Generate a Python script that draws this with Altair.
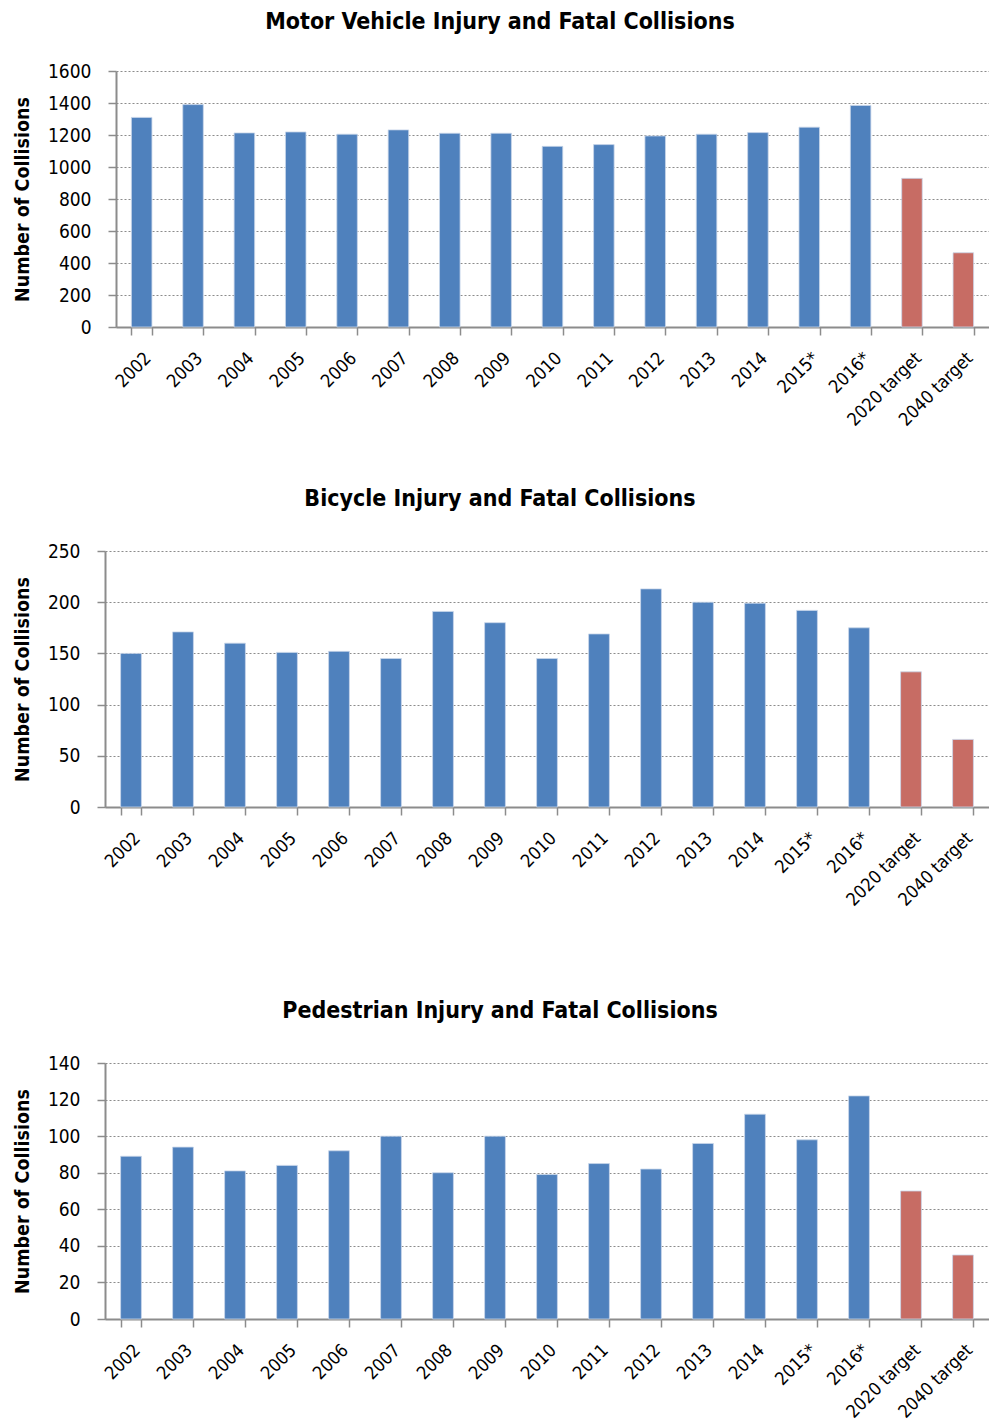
import altair as alt
import pandas as pd

categories = ["2002", "2003", "2004", "2005", "2006", "2007", "2008", "2009", "2010",
              "2011", "2012", "2013", "2014", "2015*", "2016*", "2020 target", "2040 target"]
kinds = ["actual"] * 15 + ["target"] * 2

motor_values = [1310, 1390, 1213, 1219, 1205, 1232, 1211, 1211, 1129, 1140, 1194, 1205,
                1215, 1249, 1385, 929, 464]
bicycle_values = [150, 171, 160, 151, 152, 145, 191, 180, 145, 169, 213, 200, 199, 192,
                  175, 132, 66]
pedestrian_values = [89, 94, 81, 84, 92, 100, 80, 100, 79, 85, 82, 96, 112, 98, 122, 70, 35]

titles = ["Motor Vehicle Injury and Fatal Collisions",
          "Bicycle Injury and Fatal Collisions",
          "Pedestrian Injury and Fatal Collisions"]
y_ticks_motor = [0, 200, 400, 600, 800, 1000, 1200, 1400, 1600]
y_ticks_bicycle = [0, 50, 100, 150, 200, 250]
y_ticks_pedestrian = [0, 20, 40, 60, 80, 100, 120, 140]

FONT = "DejaVu Sans Condensed"
BLUE = "#4F81BD"
RED = "#C76C64"
GRAY = "#8C8C8C"
WIDTH = 884


def panel(values, title, ticks, shift, title_offset):
    df = pd.DataFrame({"year": categories, "value": values, "kind": kinds})
    x_scale = alt.Scale(paddingInner=0.6, paddingOuter=0.3)
    if shift:
        x_scale = alt.Scale(paddingInner=0.6, paddingOuter=0.3, range=[shift, WIDTH])
    return alt.Chart(
        df,
        title=alt.Title(title, font=FONT, fontSize=23, fontWeight="bold", color="black",
                        anchor="middle", frame="group", baseline="alphabetic",
                        offset=title_offset, dx=-47),
    ).mark_bar(stroke="#C9D7EA", strokeWidth=0.8).encode(
        x=alt.X("year:N", sort=categories, scale=x_scale,
                axis=alt.Axis(title=None, labelAngle=-45, tickBand="extent",
                              labelFont=FONT, labelFontSize=18, labelColor="black",
                              labelPadding=14, tickSize=8, tickColor=GRAY, tickWidth=1.5,
                              domainColor=GRAY, domainWidth=2, grid=False)),
        y=alt.Y("value:Q",
                scale=alt.Scale(domain=[ticks[0], ticks[-1]], nice=False),
                axis=alt.Axis(values=ticks, format="d", title="Number of Collisions",
                              offset=-shift,
                              titleFont=FONT, titleFontSize=19.5, titleFontWeight="bold",
                              titleColor="black", titlePadding=15,
                              labelFont=FONT, labelFontSize=19, labelColor="black",
                              labelPadding=17, tickSize=8, tickColor=GRAY, tickWidth=1.5,
                              domainColor=GRAY, domainWidth=2,
                              grid=True, gridColor=GRAY, gridDash=[2, 2], gridWidth=1.2)),
        color=alt.Color("kind:N", scale=alt.Scale(domain=["actual", "target"],
                                                  range=[BLUE, RED]), legend=None),
    ).properties(width=WIDTH, height=256)


c1 = panel(motor_values, titles[0], y_ticks_motor, 11, 10)
c2 = panel(bicycle_values, titles[1], y_ticks_bicycle, 0, 13)
c3 = panel(pedestrian_values, titles[2], y_ticks_pedestrian, 0, 13)

chart = alt.concat(
    alt.concat(c1, c2, columns=1, spacing=58),
    c3,
    columns=1,
    spacing=90,
).properties(
    padding={"left": 4, "top": 3, "right": 0, "bottom": 0}
).configure_view(stroke=None)

chart.save("out.html", embed_options={"renderer": "svg", "actions": False})
